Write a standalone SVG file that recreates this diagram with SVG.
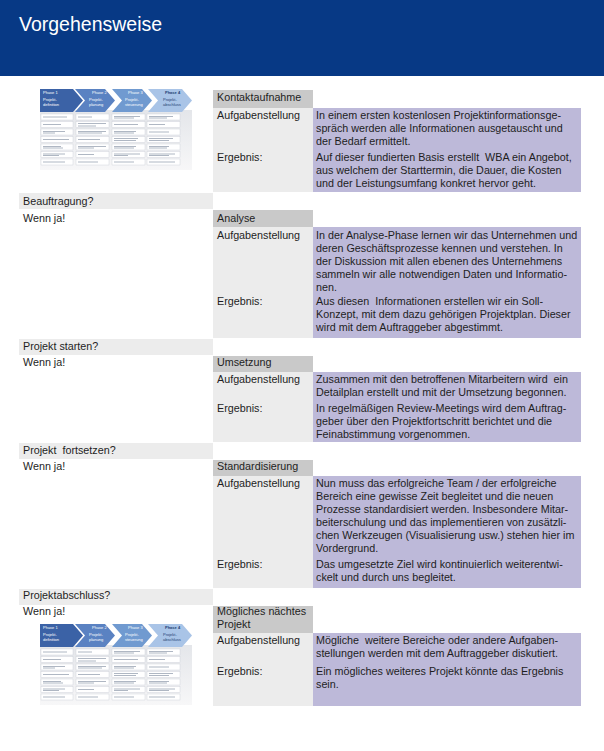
<svg xmlns="http://www.w3.org/2000/svg" width="604" height="751" viewBox="0 0 604 751">
<style>
text{font-family:"Liberation Sans",Arial,sans-serif;font-size:10.75px;fill:#1e1e1e;white-space:pre}
.title{font-size:19.5px;fill:#ffffff}
.q{fill:#ececec}
.lab{fill:#ececec}
.hd{fill:#c9c9c9}
.pu{fill:#bdb9d9}
.tb{fill:#ffffff;stroke:#c8ccd4;stroke-width:0.4}
.tl{stroke:#9aa4b4;stroke-width:0.8}
.ph{font-size:4px;fill:#ffffff}
.ph4{font-size:4px;fill:#1f3f73}
</style>
<defs>
<linearGradient id="fade" x1="0" y1="0" x2="0" y2="1">
<stop offset="0" stop-color="#e4e6ea"/>
<stop offset="1" stop-color="#f7f7f8"/>
</linearGradient>
<g id="thumb">
<rect x="40" y="110" width="152" height="60" fill="url(#fade)"/>
<polygon points="40,89 73,89 83,100.5 73,112 40,112" fill="#3b62a6"/>
<polygon points="75,89 105,89 115,100.5 105,112 75,112 85,100.5" fill="#5a82c2"/>
<polygon points="112,89 142,89 152,100.5 142,112 112,112 122,100.5" fill="#709ad0"/>
<polygon points="148,89 182,89 192,100.5 182,112 148,112 158,100.5" fill="#a9c4e7"/>
<text class="ph" x="43" y="94">Phase 1</text>
<text class="ph" x="43" y="101">Projekt-</text>
<text class="ph" x="43" y="106">definition</text>
<text class="ph" x="92" y="94">Phase 2</text>
<text class="ph" x="89" y="101">Projekt-</text>
<text class="ph" x="89" y="106">planung</text>
<text class="ph" x="128" y="94">Phase 3</text>
<text class="ph" x="125" y="101">Projekt-</text>
<text class="ph" x="125" y="106">steuerung</text>
<text class="ph4" x="165" y="94" font-weight="bold">Phase 4</text>
<text class="ph4" x="163" y="101">Projekt-</text>
<text class="ph4" x="163" y="106">abschluss</text>
<g>
<rect class="tb" x="41" y="114" width="32" height="6"/><rect class="tb" x="76" y="114" width="33" height="6"/><rect class="tb" x="112" y="114" width="33" height="6"/><rect class="tb" x="147" y="114" width="33" height="6"/>
<rect class="tb" x="41" y="121.5" width="32" height="6"/><rect class="tb" x="76" y="121.5" width="33" height="6"/><rect class="tb" x="112" y="121.5" width="33" height="6"/><rect class="tb" x="147" y="121.5" width="33" height="6"/>
<rect class="tb" x="41" y="129" width="32" height="6"/><rect class="tb" x="76" y="129" width="33" height="6"/><rect class="tb" x="112" y="129" width="33" height="6"/><rect class="tb" x="147" y="129" width="33" height="6"/>
<rect class="tb" x="41" y="136.5" width="32" height="6"/><rect class="tb" x="76" y="136.5" width="33" height="6"/><rect class="tb" x="112" y="136.5" width="33" height="6"/><rect class="tb" x="147" y="136.5" width="33" height="6"/>
<rect class="tb" x="41" y="144" width="32" height="6"/><rect class="tb" x="76" y="144" width="33" height="6"/><rect class="tb" x="112" y="144" width="33" height="6"/><rect class="tb" x="147" y="144" width="33" height="6"/>
<rect class="tb" x="41" y="151.5" width="32" height="6"/><rect class="tb" x="76" y="151.5" width="33" height="6"/><rect class="tb" x="112" y="151.5" width="33" height="6"/><rect class="tb" x="147" y="151.5" width="33" height="6"/>
<rect class="tb" x="41" y="159" width="32" height="6"/><rect class="tb" x="76" y="159" width="33" height="6"/><rect class="tb" x="112" y="159" width="33" height="6"/><rect class="tb" x="147" y="159" width="33" height="6"/>
</g>
<path class="tl" d="M43,117h24M78,117h14M114,116.5h26M114,118h20M149,116.5h24M149,118h18
M43,124.5h18M78,123.5h28M78,126h18M114,124.5h24M149,124.5h16
M43,131.5h22M43,133h12M78,131.5h28M78,133h24M114,131.5h22M114,133h20M149,132h20
M43,139.5h26M78,139.5h22M114,138.5h24M114,140.5h22M149,138.5h24M149,140.5h20
M43,146.5h18M43,148h20M78,146.5h28M78,148h16M114,146.5h22M114,148h20M149,146.5h20M149,148h18
M43,154h22M43,155.5h16M78,154.5h16M114,154h26M114,155.5h14M149,154h26M149,155.5h20
M43,162h22M78,162h20M114,162h20M149,162h26"/>
</g>
</defs>

<g id="header">
<rect x="0" y="0" width="604" height="76" fill="#073985"/>
<text class="title" x="19" y="31">Vorgehensweise</text>
</g>

<g id="thumb-top"><use href="#thumb"/></g>

<g id="kontaktaufnahme">
<rect class="hd" x="213" y="90" width="100" height="18"/>
<rect class="lab" x="213" y="108" width="100" height="84"/>
<rect class="pu" x="313" y="108" width="268" height="84"/>
<text x="217" y="101">Kontaktaufnahme</text>
<text x="217" y="119">Aufgabenstellung</text>
<text x="217" y="161">Ergebnis:</text>
<text x="316" y="119">In einem ersten kostenlosen Projektinformationsge-</text>
<text x="316" y="132">spräch werden alle Informationen ausgetauscht und</text>
<text x="316" y="145">der Bedarf ermittelt.</text>
<text x="316" y="161">Auf dieser fundierten Basis erstellt  WBA ein Angebot,</text>
<text x="316" y="174">aus welchem der Starttermin, die Dauer, die Kosten</text>
<text x="316" y="187">und der Leistungsumfang konkret hervor geht.</text>
</g>

<g id="beauftragung">
<rect class="q" x="19" y="193" width="194" height="16"/>
<text x="23" y="205">Beauftragung?</text>
<text x="23" y="222">Wenn ja!</text>
</g>

<g id="analyse">
<rect class="hd" x="213" y="210" width="100" height="17"/>
<rect class="lab" x="213" y="227" width="100" height="111"/>
<rect class="pu" x="313" y="227" width="268" height="111"/>
<text x="217" y="222">Analyse</text>
<text x="217" y="239">Aufgabenstellung</text>
<text x="217" y="305">Ergebnis:</text>
<text x="316" y="239">In der Analyse-Phase lernen wir das Unternehmen und</text>
<text x="316" y="252">deren Geschäftsprozesse kennen und verstehen. In</text>
<text x="316" y="265">der Diskussion mit allen ebenen des Unternehmens</text>
<text x="316" y="278">sammeln wir alle notwendigen Daten und Informatio-</text>
<text x="316" y="291">nen.</text>
<text x="316" y="305">Aus diesen  Informationen erstellen wir ein Soll-</text>
<text x="316" y="318">Konzept, mit dem dazu gehörigen Projektplan. Dieser</text>
<text x="316" y="331">wird mit dem Auftraggeber abgestimmt.</text>
</g>

<g id="projekt-starten">
<rect class="q" x="19" y="339" width="194" height="16"/>
<text x="23" y="350">Projekt starten?</text>
<text x="23" y="366">Wenn ja!</text>
</g>

<g id="umsetzung">
<rect class="hd" x="213" y="356" width="100" height="16"/>
<rect class="lab" x="213" y="372" width="100" height="70"/>
<rect class="pu" x="313" y="372" width="268" height="70"/>
<text x="217" y="366">Umsetzung</text>
<text x="217" y="383">Aufgabenstellung</text>
<text x="217" y="412">Ergebnis:</text>
<text x="316" y="383">Zusammen mit den betroffenen Mitarbeitern wird  ein</text>
<text x="316" y="396">Detailplan erstellt und mit der Umsetzung begonnen.</text>
<text x="316" y="412">In regelmäßigen Review-Meetings wird dem Auftrag-</text>
<text x="316" y="425">geber über den Projektfortschritt berichtet und die</text>
<text x="316" y="438">Feinabstimmung vorgenommen.</text>
</g>

<g id="projekt-fortsetzen">
<rect class="q" x="19" y="443" width="194" height="16"/>
<text x="23" y="454">Projekt  fortsetzen?</text>
<text x="23" y="470">Wenn ja!</text>
</g>

<g id="standardisierung">
<rect class="hd" x="213" y="460" width="100" height="16"/>
<rect class="lab" x="213" y="476" width="100" height="112"/>
<rect class="pu" x="313" y="476" width="268" height="112"/>
<text x="217" y="470">Standardisierung</text>
<text x="217" y="487">Aufgabenstellung</text>
<text x="217" y="568">Ergebnis:</text>
<text x="316" y="487">Nun muss das erfolgreiche Team / der erfolgreiche</text>
<text x="316" y="500">Bereich eine gewisse Zeit begleitet und die neuen</text>
<text x="316" y="513">Prozesse standardisiert werden. Insbesondere Mitar-</text>
<text x="316" y="526">beiterschulung und das implementieren von zusätzli-</text>
<text x="316" y="539">chen Werkzeugen (Visualisierung usw.) stehen hier im</text>
<text x="316" y="552">Vordergrund.</text>
<text x="316" y="568">Das umgesetzte Ziel wird kontinuierlich weiterentwi-</text>
<text x="316" y="581">ckelt und durch uns begleitet.</text>
</g>

<g id="projektabschluss">
<rect class="q" x="19" y="589" width="194" height="16"/>
<text x="23" y="599">Projektabschluss?</text>
<text x="23" y="615">Wenn ja!</text>
</g>

<g id="naechstes-projekt">
<rect class="hd" x="213" y="606" width="100" height="27"/>
<rect class="lab" x="213" y="633" width="100" height="73"/>
<rect class="pu" x="313" y="633" width="268" height="73"/>
<text x="217" y="615">Mögliches nächtes</text>
<text x="217" y="628">Projekt</text>
<text x="217" y="644">Aufgabenstellung</text>
<text x="217" y="675">Ergebnis:</text>
<text x="316" y="644">Mögliche  weitere Bereiche oder andere Aufgaben-</text>
<text x="316" y="657">stellungen werden mit dem Auftraggeber diskutiert.</text>
<text x="316" y="675">Ein mögliches weiteres Projekt könnte das Ergebnis</text>
<text x="316" y="688">sein.</text>
</g>

<g id="thumb-bottom" transform="translate(0,535)"><use href="#thumb"/></g>
</svg>
